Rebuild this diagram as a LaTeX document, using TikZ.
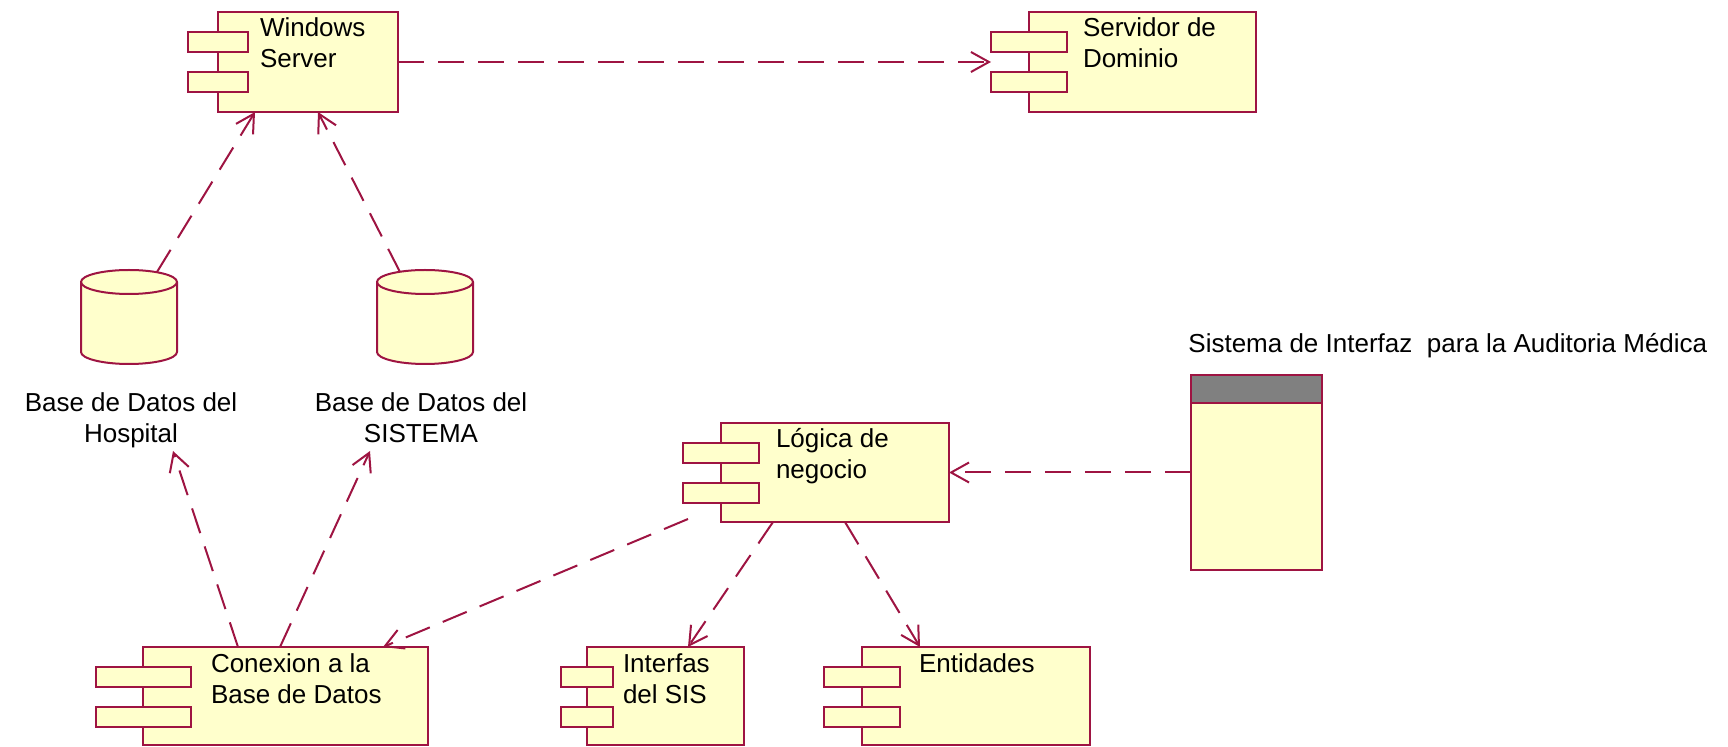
\documentclass[tikz,border=0pt]{standalone}
\usepackage{fontspec}
\setmainfont{Liberation Sans}
\usetikzlibrary{calc,arrows.meta}
\definecolor{rose}{RGB}{158,20,66}
\definecolor{rosefill}{RGB}{255,255,204}
\definecolor{headgray}{RGB}{128,128,128}

\tikzset{
  compbody/.style={draw=rose, fill=rosefill, line width=1pt, inner sep=0pt, outer sep=0pt, rectangle},
  comptab/.style={draw=rose, fill=rosefill, line width=1pt, inner sep=0pt, outer sep=0pt, rectangle, minimum height=10pt},
  comptext/.style={anchor=base west, inner sep=0pt, outer sep=0pt,
    font=\fontsize{13}{15.5}\selectfont},
  lbl/.style={anchor=base, inner sep=0pt, outer sep=0pt,
    font=\fontsize{13}{15.5}\selectfont},
  dep/.style={draw=rose, line width=1pt, dash pattern=on 13pt off 7pt,
    -{Straight Barb[length=9pt,width=10pt,line width=1pt]}},
}

% left-aligned lines hanging from the first baseline
\newcommand\lefttext[1]{\begin{tabular}[t]{@{}l@{}}#1\end{tabular}}
\newcommand\centretext[1]{\begin{tabular}[t]{@{}c@{}}#1\end{tabular}}

% component icon: name, left, top, width, height, text x, text
\newcommand\compbox[7]{%
  \node[compbody, minimum width=#4*0.5pt, minimum height=#5*0.5pt, anchor=north west] (#1) at (#2,#3) {};
  \node[comptab, minimum width=#4*0.5pt/3, anchor=north] (#1-a) at ($(#1.north west)+(0,20)$) {};
  \node[comptab, minimum width=#4*0.5pt/3, anchor=north] (#1-b) at ($(#1.north west)+(0,60)$) {};
  \node[comptext] (#1-t) at (#6,#3+25) {\lefttext{#7}};
}

% database cylinder: name, centre x
\newcommand\dbcyl[2]{%
  \node[inner sep=0pt, outer sep=0pt, minimum width=48pt, minimum height=47pt] (#1) at (#2,317) {};
  \filldraw[draw=rose, fill=rosefill, line width=1pt]
    (#2-48,282) -- (#2-48,352) arc[start angle=180, end angle=0, x radius=48, y radius=12]
    -- (#2+48,282) arc[start angle=0, end angle=-180, x radius=48, y radius=12] -- cycle;
  \draw[rose, line width=1pt] (#2-48,282) arc[start angle=180, end angle=0, x radius=48, y radius=12];
}

\begin{document}
\begin{tikzpicture}[x=0.5pt, y=-0.5pt]
\useasboundingbox (0,0) rectangle (1728,747);

% components
\compbox{win}{218}{12}{180}{100}{260}{Windows\\Server}
\compbox{dom}{1029}{12}{227}{100}{1083}{Servidor de\\Dominio}
\compbox{log}{721}{423}{228}{99}{776}{Lógica de\\negocio}
\compbox{con}{143}{647}{285}{98}{211}{Conexion a la\\Base de Datos}
\compbox{sis}{587}{647}{157}{98}{623}{Interfas\\del SIS}
\compbox{ent}{862}{647}{228}{98}{919}{Entidades}

% databases
\dbcyl{dbh}{129}
\dbcyl{dbs}{425}
\node[lbl] (lblh) at (131,412) {\centretext{Base de Datos del\\Hospital}};
\node[lbl] (lbls) at (421,412) {\centretext{Base de Datos del\\SISTEMA}};
\coordinate (lblh-in) at (173,451);
\coordinate (lbls-in) at (370,451);

% subsystem
\node[compbody, minimum width=65.5pt, minimum height=97.5pt, anchor=north west] (aud) at (1191,375) {};
\node[compbody, fill=headgray, minimum width=65.5pt, minimum height=14pt, anchor=north west] (aud-h) at (1191,375) {};
\node[anchor=base west, inner sep=0pt, font=\fontsize{13}{15.5}\selectfont] (aud-t) at (1188,353)
  {Sistema de Interfaz~~para la Auditoria Médica};

% dependencies
\draw[dep] (win.east) -- ($(dom.west)+(-38,0)$);
\draw[dep] ($(dbh.north)+(28,2)$) -- ($(win.south west)+(37,0)$);
\draw[dep] ($(dbs.north)+(-25,2)$) -- ($(win.south west)+(100,0)$);
\draw[dep] ($(con.north west)+(95,0)$) -- (lblh-in);
\draw[dep] ($(con.north west)+(137,0)$) -- (lbls-in);
\draw[dep] ($(log.south west)+(-33,-3)$) -- ($(con.north west)+(240,0)$);
\draw[dep] ($(log.south west)+(52,0)$) -- ($(sis.north west)+(101,0)$);
\draw[dep] ($(log.south west)+(124,0)$) -- ($(ent.north west)+(58,0)$);
\draw[dep] (aud.west) -- (log.east);
\end{tikzpicture}
\end{document}
